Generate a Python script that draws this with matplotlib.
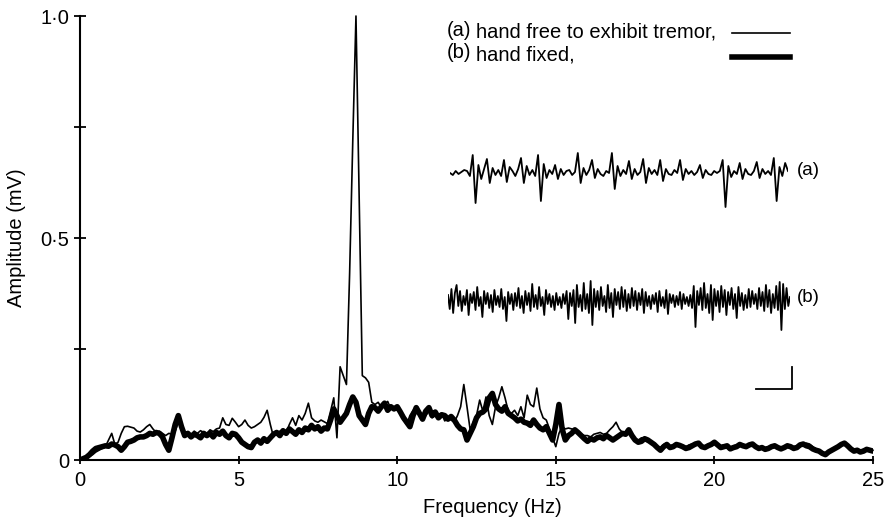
import numpy as np
import matplotlib
matplotlib.use("Agg")
import matplotlib.pyplot as plt
from matplotlib.lines import Line2D

plt.rcParams['font.family'] = ['Liberation Sans', 'DejaVu Sans']

# ---------------- data ----------------
freq = np.round(np.arange(0, 25.0001, 0.1), 1)  # Hz, 0.1 Hz resolution

# (b) hand fixed (thick line)
amp_fixed = [
    0.000, 0.003, 0.006, 0.012, 0.020, 0.026, 0.028, 0.030, 0.032, 0.031,
    0.036, 0.034, 0.030, 0.022, 0.030, 0.040, 0.042, 0.045, 0.050, 0.052,
    0.052, 0.055, 0.060, 0.058, 0.062, 0.060, 0.052, 0.035, 0.022, 0.050,
    0.080, 0.100, 0.075, 0.055, 0.060, 0.052, 0.058, 0.055, 0.050, 0.060,
    0.055, 0.060, 0.052, 0.062, 0.058, 0.065, 0.055, 0.050, 0.060, 0.058,
    0.050, 0.040, 0.035, 0.030, 0.028, 0.040, 0.045, 0.038, 0.048, 0.042,
    0.050, 0.058, 0.062, 0.055, 0.066, 0.060, 0.070, 0.064, 0.058, 0.068,
    0.062, 0.072, 0.068, 0.078, 0.070, 0.075, 0.065, 0.072, 0.070, 0.090,
    0.115, 0.100, 0.085, 0.095, 0.105, 0.125, 0.142, 0.130, 0.100, 0.090,
    0.080, 0.105, 0.120, 0.118, 0.110, 0.120, 0.128, 0.112, 0.120, 0.115,
    0.120, 0.108, 0.095, 0.085, 0.075, 0.100, 0.118, 0.105, 0.092, 0.110,
    0.118, 0.100, 0.108, 0.095, 0.102, 0.100, 0.092, 0.098, 0.090, 0.078,
    0.070, 0.068, 0.045, 0.060, 0.075, 0.095, 0.105, 0.108, 0.115, 0.140,
    0.150, 0.125, 0.115, 0.110, 0.120, 0.105, 0.100, 0.095, 0.088, 0.092,
    0.085, 0.083, 0.078, 0.090, 0.080, 0.072, 0.068, 0.075, 0.060, 0.045,
    0.080, 0.125, 0.070, 0.045, 0.055, 0.060, 0.068, 0.062, 0.055, 0.048,
    0.042, 0.048, 0.045, 0.050, 0.052, 0.048, 0.055, 0.050, 0.045, 0.050,
    0.055, 0.060, 0.058, 0.068, 0.055, 0.045, 0.040, 0.042, 0.048, 0.045,
    0.040, 0.035, 0.028, 0.022, 0.030, 0.035, 0.028, 0.030, 0.035, 0.033,
    0.030, 0.026, 0.028, 0.032, 0.036, 0.038, 0.030, 0.028, 0.032, 0.035,
    0.040, 0.034, 0.028, 0.030, 0.032, 0.025, 0.028, 0.030, 0.035, 0.032,
    0.030, 0.034, 0.036, 0.030, 0.026, 0.028, 0.024, 0.026, 0.030, 0.032,
    0.028, 0.025, 0.028, 0.032, 0.030, 0.026, 0.028, 0.034, 0.036, 0.032,
    0.030, 0.025, 0.022, 0.020, 0.015, 0.012, 0.018, 0.022, 0.026, 0.030,
    0.035, 0.038, 0.032, 0.025, 0.020, 0.022, 0.018, 0.020, 0.024, 0.022,
    0.020,
]

# (a) hand free to exhibit tremor (thin line)
amp_free = [
    0.000, 0.002, 0.004, 0.008, 0.012, 0.018, 0.022, 0.026, 0.030, 0.045,
    0.060, 0.035, 0.040, 0.060, 0.075, 0.076, 0.074, 0.072, 0.065, 0.063,
    0.068, 0.075, 0.080, 0.070, 0.062, 0.065, 0.060, 0.055, 0.060, 0.058,
    0.065, 0.085, 0.070, 0.060, 0.062, 0.058, 0.065, 0.060, 0.066, 0.062,
    0.060, 0.068, 0.064, 0.070, 0.072, 0.095, 0.080, 0.078, 0.094, 0.085,
    0.075, 0.080, 0.090, 0.078, 0.072, 0.075, 0.080, 0.085, 0.096, 0.112,
    0.080, 0.052, 0.062, 0.065, 0.060, 0.062, 0.080, 0.095, 0.078, 0.100,
    0.090, 0.105, 0.128, 0.095, 0.088, 0.085, 0.090, 0.086, 0.082, 0.110,
    0.140, 0.050, 0.210, 0.190, 0.170, 0.420, 0.720, 1.000, 0.600, 0.190,
    0.185, 0.175, 0.130, 0.125, 0.130, 0.118, 0.125, 0.132, 0.115, 0.120,
    0.118, 0.110, 0.090, 0.080, 0.100, 0.112, 0.105, 0.110, 0.098, 0.100,
    0.110, 0.095, 0.100, 0.092, 0.104, 0.088, 0.095, 0.090, 0.085, 0.100,
    0.120, 0.170, 0.120, 0.068, 0.085, 0.100, 0.135, 0.110, 0.142, 0.100,
    0.080, 0.120, 0.140, 0.165, 0.140, 0.110, 0.105, 0.112, 0.100, 0.120,
    0.095, 0.146, 0.125, 0.120, 0.162, 0.115, 0.095, 0.090, 0.070, 0.050,
    0.030, 0.060, 0.075, 0.070, 0.072, 0.070, 0.068, 0.060, 0.058, 0.055,
    0.055, 0.052, 0.058, 0.060, 0.062, 0.058, 0.060, 0.068, 0.075, 0.085,
    0.070, 0.062, 0.060, 0.058, 0.052, 0.048, 0.045, 0.050, 0.046, 0.040,
    0.042, 0.038, 0.030, 0.028, 0.035, 0.038, 0.032, 0.034, 0.036, 0.030,
    0.032, 0.030, 0.034, 0.036, 0.032, 0.040, 0.034, 0.030, 0.035, 0.037,
    0.042, 0.036, 0.032, 0.034, 0.030, 0.028, 0.032, 0.034, 0.030, 0.035,
    0.033, 0.036, 0.034, 0.028, 0.030, 0.026, 0.028, 0.030, 0.028, 0.035,
    0.030, 0.028, 0.030, 0.035, 0.028, 0.030, 0.032, 0.030, 0.034, 0.038,
    0.036, 0.030, 0.025, 0.022, 0.018, 0.016, 0.020, 0.025, 0.028, 0.032,
    0.036, 0.040, 0.034, 0.028, 0.024, 0.025, 0.022, 0.024, 0.026, 0.025,
    0.022,
]

# EMG sample traces (arbitrary units)
trace_a = [
    0, -2, 2, -1, 1, 3, 2, -3, 18, -30, 8, -6, 4,
    14, -10, 5, -2, 3, -3,
    13, -9, 6, 2, -3, 4,
    15, -10, 7, -2, 3, -3,
    18, -28, 9, -5, 3, -1,
    8, -6, 4, -2, 2, 3, -2, 1,
    20, -10, 5, -2, 3,
    13, -5, 4, -1, -3, 2, 0,
    20, -16, 7, -3, 3, -1,
    12, -6, 4, -2, 1,
    14, -10, 5, -1, 3, -2,
    13, -8, 4, -1, -2, 3, 0,
    13, -7, 4, -1, 2, -2, 1,
    8, -5, 3, -1, -2, 2, 0, 2,
    13, -34, 7, -4, 2, -1,
    10, -6, 4, -1, -2, 2,
    11, -5, 4, -1, 2, -2,
    15, -28, 6, -3, 10, 2,
]
trace_b = [
    5, -9, 11, -13, 7, 15, -6, 9, -11, 4, -5, 10, -15, 6, -3, 8, -10, 13, -6, 3,
    -17, 9, -4, 7, -8, 5, -12, 10, -5, 4, -7, 11, -9, 3, -21, 8, -4, 6, -10, 7,
    -6, 12, -8, 4, -13, 9, -5, 7, -11, 16, -7, 5, -9, 13, -6, 3, -15, 10, -4, 6,
    -7, 4, -10, 7, -5, 3, -8, 6, -4, 9, -19, 7, -6, 10, -23, 15, -7, 5, -11, 17,
    -9, 6, -13, 19, -25, 11, -7, 9, -10, 13, -6, 4, -12, 15, -8, 7, -17, 11, -5, 8,
    -9, 13, -7, 10, -11, 6, -8, 12, -6, 9, -10, 7, -5, 11, -13, 8, -6, 4, -9, 5,
    -4, 7, -12, 9, -6, 3, -8, 10, -14, 6, -3, 5, -7, 4, -5, 8, -9, 6, -4, 3,
    -6, 5, -8, 14, -27, 9, -5, 12, -10, 17, -8, 6, -13, 15, -20, 11, -6, 9, -12, 14,
    -7, 10, -15, 8, -5, 12, -9, 6, -18, 13, -6, 7, -10, 5, -8, 11, -7, 9, -4, 6,
    -9, 12, -6, 8, -11, 15, -7, 10, -13, 6, -8, 14, -10, 18, -30, 16, -9, 12, -6, 3,
]

x_ticks = [0, 5, 10, 15, 20, 25]
y_ticks = [0, 0.25, 0.5, 0.75, 1.0]
y_ticklabels = ['0', '', '0\u00b75', '', '1\u00b70']

W, H = 891, 520
FS = 14.5

# ---------------- figure ----------------
fig = plt.figure(figsize=(W / 100, H / 100), dpi=100)
ax = fig.add_axes([80 / W, 60 / H, 793 / W, 444 / H])

ax.plot(freq, amp_fixed, color='black', lw=4.0, solid_joinstyle='round',
        solid_capstyle='round')
ax.plot(freq, amp_free, color='black', lw=1.2, clip_on=False)

ax.set_xlim(0, 25)
ax.set_ylim(0, 1.0)
for s in ['top', 'right']:
    ax.spines[s].set_visible(False)
for s in ['left', 'bottom']:
    ax.spines[s].set_linewidth(1.5)
ax.set_xticks(x_ticks)
ax.set_xticklabels([str(t) for t in x_ticks])
ax.set_yticks(y_ticks)
ax.set_yticklabels(y_ticklabels)
ax.tick_params(axis='y', direction='inout', length=8, width=1.3,
               labelsize=FS, pad=4)
ax.tick_params(axis='x', direction='inout', length=6, width=1.3,
               labelsize=FS, pad=5)
ax.set_xlabel('Frequency (Hz)', fontsize=FS, labelpad=6)
ax.xaxis.set_label_coords(0.52, -0.085)
ax.set_ylabel('Amplitude (mV)', fontsize=FS, labelpad=10)

# ---------------- legend ----------------
def fy(py):
    return 1 - py / H

fig.text(447 / W, fy(30), '(a)', fontsize=FS, va='center', ha='left')
fig.text(476 / W, fy(32), 'hand free to exhibit tremor,', fontsize=FS,
         va='center', ha='left')
fig.text(447 / W, fy(53), '(b)', fontsize=FS, va='center', ha='left')
fig.text(476 / W, fy(55), 'hand fixed,', fontsize=FS, va='center', ha='left')
fig.add_artist(Line2D([732 / W, 790 / W], [fy(33), fy(33)], color='black',
                      lw=1.2, transform=fig.transFigure))
fig.add_artist(Line2D([732 / W, 790 / W], [fy(57), fy(57)], color='black',
                      lw=4.0, transform=fig.transFigure))

# ---------------- inset traces ----------------
axa = fig.add_axes([450 / W, (H - 173 - 40) / H, 338 / W, 80 / H])
axa.plot(np.arange(len(trace_a)), trace_a, color='black', lw=1.3)
axa.set_xlim(0, len(trace_a) - 1)
axa.set_ylim(-40, 40)
axa.axis('off')

axb = fig.add_axes([448 / W, (H - 300 - 40) / H, 342 / W, 80 / H])
axb.plot(np.arange(len(trace_b)), trace_b, color='black', lw=1.3)
axb.set_xlim(0, len(trace_b) - 1)
axb.set_ylim(-40, 40)
axb.axis('off')

fig.text(797 / W, fy(171), '(a)', fontsize=FS - 1, va='center', ha='left')
fig.text(797 / W, fy(298), '(b)', fontsize=FS - 1, va='center', ha='left')

# scale bar
fig.add_artist(Line2D([756 / W, 792 / W, 792 / W],
                      [fy(389), fy(389), fy(367)], color='black', lw=1.3,
                      transform=fig.transFigure))

fig.savefig('out.png', dpi=100)
